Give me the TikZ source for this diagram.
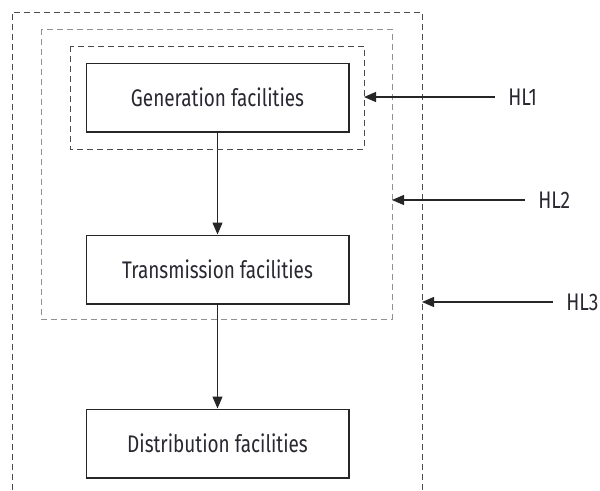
\documentclass[tikz,border=0pt]{standalone}
\usepackage{fontspec}
\setmainfont{Fira Sans}[FakeStretch=0.79]
\newfontfamily\hlfont{Fira Sans}[FakeStretch=0.8]
\usepackage{tikz}
\usetikzlibrary{arrows.meta,positioning}
\definecolor{hlDark}{RGB}{75,75,75}
\definecolor{hlLight}{RGB}{145,145,145}
\definecolor{hlText}{RGB}{40,40,48}

\tikzset{
  facility/.style={draw=black!85, line width=1pt, minimum width=197pt, minimum height=51.5pt,
                   inner sep=0pt, text=hlText, font=\fontsize{18}{21}\selectfont},
  hlbox/.style={draw=hlDark, line width=0.7pt, dash pattern=on 4.5pt off 3pt},
  flow/.style={draw=black!85, line width=0.9pt, -{Triangle[length=9pt,width=7.5pt]}},
  hllabel/.style={anchor=west, inner sep=0pt, text=hlText, font=\hlfont\fontsize{18}{21}\selectfont}
}

\begin{document}
\begin{tikzpicture}[x=0.75pt, y=-0.75pt]
\useasboundingbox (0,0) rectangle (600,490);

% facilities
\node[facility] (gen) at (217.5,97.5) {Generation facilities};
\node[facility, below=76.5pt of gen] (trans) {Transmission facilities};
\node[facility, below=78pt of trans] (dist) {Distribution facilities};
\draw[flow] (gen) -- (trans);
\draw[flow] (trans) -- (dist);

% hierarchical levels
\draw[hlbox] (70,46) rectangle (364,149);
\draw[hlbox, draw=hlLight] (41,29) rectangle (392,319);
\draw[hlbox] (12,490) |- (422,12) -- (422,490);

% level labels: number / label x / box edge x / y
\foreach \i/\xl/\xb/\y in {1/508/364/97, 2/538/392/200, 3/566/422/302}
{
  \coordinate (edge\i) at (\xb,\y);
  \node[hllabel] (hl\i) at (\xl,\y) {HL\i};
  \draw[flow, shorten <=9.75pt] (hl\i.west) -- (edge\i);
}
\end{tikzpicture}
\end{document}
